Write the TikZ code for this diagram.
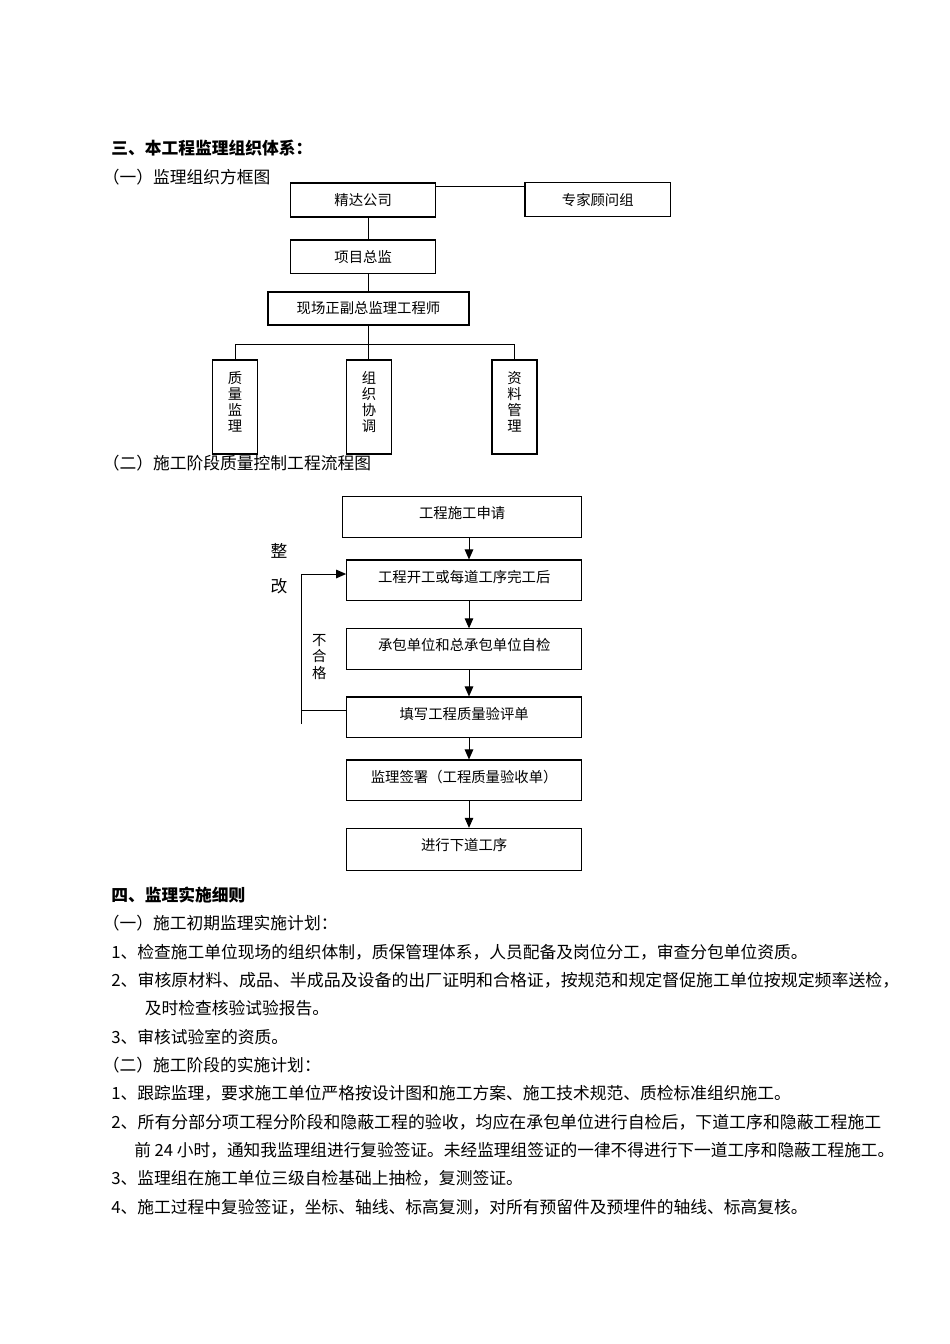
\documentclass[tikz,border=0pt]{standalone}
\usepackage{fontspec}
\setmainfont{Noto Sans CJK SC}
\usepackage{graphicx}
\usetikzlibrary{arrows.meta}
\newdimen\pxu
\pxu=0.62661pt
\newcommand{\fitline}[2]{\resizebox{#1\pxu}{\height}{#2}}
\tikzset{txt/.style = {anchor=west, inner sep=0pt, font=\fontsize{10.5}{12.6}\selectfont},
         hd/.style = {txt, font=\fontsize{10.5}{12.6}\selectfont\bfseries},
         orgbox/.style = {draw, line width=0.7pt, inner sep=0pt, font=\fontsize{9}{10.8}\selectfont},
         vbox/.style = {orgbox, minimum width=45\pxu, minimum height=94\pxu, align=center,
                        font=\fontsize{9}{10.03}\selectfont, text depth=11.7\pxu},
         flowbox/.style = {orgbox, minimum width=235\pxu, minimum height=40.6\pxu, text depth=8.7\pxu},
         link/.style = {line width=0.6pt},
         arr/.style = {link, -{Triangle[length=6.3pt, width=5.4pt]}}}

\begin{document}
\begin{tikzpicture}[x=0.62661pt, y=-0.62661pt]
  \useasboundingbox (0,0) rectangle (950,1344);
  \node [hd] (t3) at (111,148) {三、本工程监理组织体系：};
  \node [txt] (t31) at (102.6,177) {（一）监理组织方框图};
  \node [orgbox, minimum width=145\pxu, minimum height=34\pxu] (jd) at (363.2,200) {精达公司};
  \node [orgbox, minimum width=145.7\pxu, minimum height=34\pxu] (zj) at (597.8,199.7) {专家顾问组};
  \node [orgbox, minimum width=145\pxu, minimum height=33.3\pxu] (xm) at (363.2,256.7) {项目总监};
  \node [orgbox, minimum width=201\pxu, minimum height=33\pxu] (xc) at (368.5,308.5) {现场正副总监理工程师};
  \node [vbox] (zl) at (235,407) {质\\量\\监\\理};
  \node [vbox, minimum width=44.5\pxu] (zz) at (369,407) {组\\织\\协\\调};
  \node [vbox] (zg) at (514.5,407) {资\\料\\管\\理};
  \coordinate (vx) at (368.3,0);
  \coordinate (hy) at (0,344);
  \coordinate (ty) at (0,186.3);
  \draw [link] (jd.east |- ty) -- (zj.west |- ty);
  \draw [link] (jd.south -| vx) -- (xm.north -| vx);
  \draw [link] (xm.south -| vx) -- (xc.north -| vx);
  \draw [link] (xc.south -| vx) -- (zz.north -| vx);
  \draw [link] (zl.north) -- (zl.north |- hy) -- (zg.north |- hy) -- (zg.north);

  \node [txt] (t32) at (102.6,463) {（二）施工阶段质量控制工程流程图};
  \node [flowbox, minimum width=239\pxu] (b1) at (462.2,517) {工程施工申请};
  \node [flowbox] (b2) at (464.2,580.3) {工程开工或每道工序完工后};
  \node [flowbox] (b3) at (464.2,649.2) {承包单位和总承包单位自检};
  \node [flowbox] (b4) at (464.2,717.3) {填写工程质量验评单};
  \node [flowbox] (b5) at (464.2,780.3) {监理签署（工程质量验收单）};
  \node [flowbox, minimum height=41.7\pxu] (b6) at (464.2,849.2) {进行下道工序};
  \coordinate (ax) at (469,0);
  \foreach \a/\b in {b1/b2,b2/b3,b3/b4,b4/b5,b5/b6}
    \draw [arr] (\a.south -| ax) -- (\b.north -| ax);
  \coordinate (lx) at (301.7,724);
  \coordinate (fy) at (0,710);
  \coordinate (ry) at (0,574);
  \draw [link] (b4.west |- fy) -- (lx |- fy);
  \draw [arr] (lx) -- (lx |- ry) -- (b2.west |- ry);
  \node [txt, anchor=center] (zh) at (279,551) {整};
  \node [txt, anchor=center] (gai) at (279,586) {改};
  \node [inner sep=0pt, align=center, font=\fontsize{9}{10.46}\selectfont] (bhg) at (319.3,657) {不\\合\\格};

  \node [hd] (t4) at (111,895) {四、监理实施细则};
  \node [txt] (t41) at (102.6,923) {（一）施工初期监理实施计划：};
  \node [txt] (p11) at (111,952) {1、检查施工单位现场的组织体制，质保管理体系，人员配备及岗位分工，审查分包单位资质。};
  \node [txt] (p12) at (111,980) {\fitline{788}{2、审核原材料、成品、半成品及设备的出厂证明和合格证，按规范和规定督促施工单位按规定频率送检，}};
  \node [txt] (p12b) at (144.6,1008) {及时检查核验试验报告。};
  \node [txt] (p13) at (111,1037) {3、审核试验室的资质。};
  \node [txt] (t42) at (102.6,1065) {（二）施工阶段的实施计划：};
  \node [txt] (p21) at (111,1093) {1、跟踪监理，要求施工单位严格按设计图和施工方案、施工技术规范、质检标准组织施工。};
  \node [txt] (p22) at (111,1122) {\fitline{770}{2、所有分部分项工程分阶段和隐蔽工程的验收，均应在承包单位进行自检后，下道工序和隐蔽工程施工}};
  \node [txt] (p22b) at (134,1150) {\fitline{760}{前 24 小时，通知我监理组进行复验签证。未经监理组签证的一律不得进行下一道工序和隐蔽工程施工。}};
  \node [txt] (p23) at (111,1178) {3、监理组在施工单位三级自检基础上抽检，复测签证。};
  \node [txt] (p24) at (111,1207) {4、施工过程中复验签证，坐标、轴线、标高复测，对所有预留件及预埋件的轴线、标高复核。};
\end{tikzpicture}
\end{document}
